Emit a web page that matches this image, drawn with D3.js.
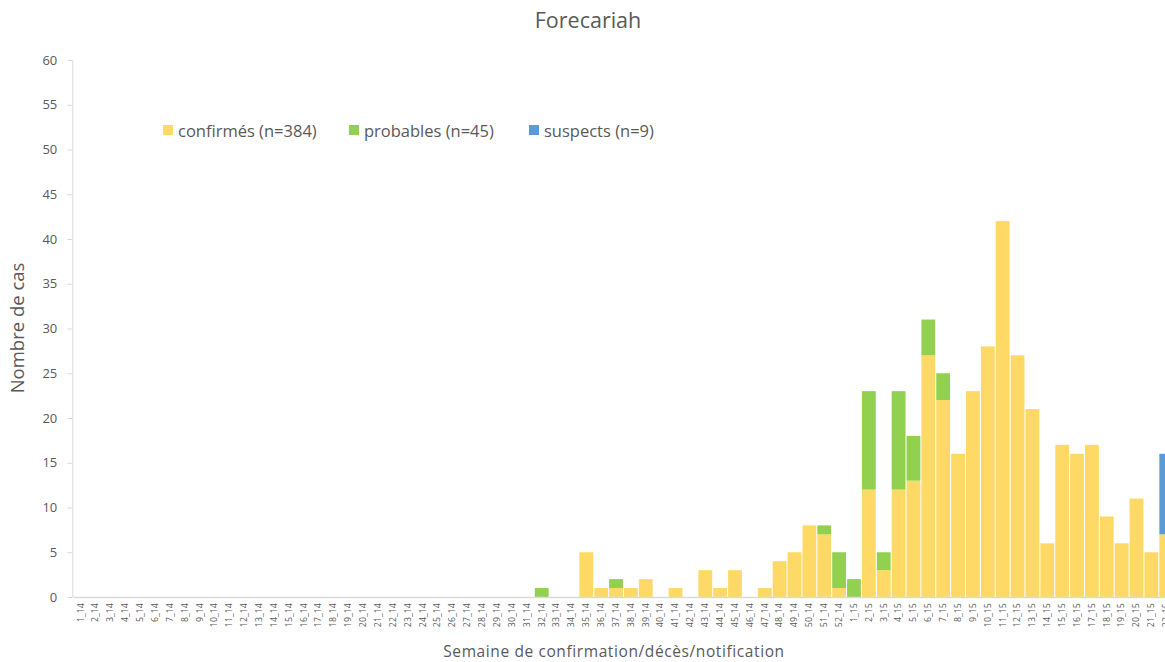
<!DOCTYPE html>
<html><head><meta charset="utf-8">
<script src="https://cdn.jsdelivr.net/npm/d3@7"></script>
<style>body{margin:0;background:#fff;overflow:hidden}svg{display:block}text{font-family:"Open Sans","Liberation Sans",sans-serif}</style>
</head><body><svg id="c" width="1165" height="662"></svg>
<script>
const weeks = [];
for (let i = 1; i <= 52; i++) weeks.push(i + "_14");
for (let i = 1; i <= 22; i++) weeks.push(i + "_15");
// values from week 1_14 onward (74 weeks)
const confirmes = [0,0,0,0,0,0,0,0,0,0, 0,0,0,0,0,0,0,0,0,0, 0,0,0,0,0,0,0,0,0,0, 0,0,0,0,5,1,1,1,2,0, 1,0,3,1,3,0,1,4,5,8, 7,1,
  0,12,3,12,13,27,22,16,23,28,42,27,21,6,17,16,17,9,6,11,5,7];
const probables = [0,0,0,0,0,0,0,0,0,0, 0,0,0,0,0,0,0,0,0,0, 0,0,0,0,0,0,0,0,0,0, 0,1,0,0,0,0,1,0,0,0, 0,0,0,0,0,0,0,0,0,0, 1,4,
  2,11,2,11,5,4,3,0,0,0,0,0,0,0,0,0,0,0,0,0,0,0];
const suspects = [0,0,0,0,0,0,0,0,0,0, 0,0,0,0,0,0,0,0,0,0, 0,0,0,0,0,0,0,0,0,0, 0,0,0,0,0,0,0,0,0,0, 0,0,0,0,0,0,0,0,0,0, 0,0,
  0,0,0,0,0,0,0,0,0,0,0,0,0,0,0,0,0,0,0,0,0,9];
const seriesNames = ["confirmés (n=384)", "probables (n=45)", "suspects (n=9)"];
const colors = ["#FFD966", "#92D050", "#5B9BD5"];
const yTicks = [0,5,10,15,20,25,30,35,40,45,50,55,60];

const svg = d3.select("#c");
const left = 73.3, bw = 14.87;
const x = d3.scaleBand().domain(weeks).range([left, left + bw * weeks.length]).paddingInner(0.07).paddingOuter(0.035);
const y = d3.scaleLinear().domain([0, 60]).range([597, 60]);

const rows = weeks.map((w, i) => ({w, c: confirmes[i], p: probables[i], s: suspects[i]}));
const stack = d3.stack().keys(["c", "p", "s"])(rows);

// axes
const yAxis = svg.append("g").attr("transform", `translate(${left - 1},0)`)
  .call(d3.axisLeft(y).tickValues(yTicks).tickSize(5).tickSizeOuter(0).tickPadding(10));
yAxis.select(".domain").attr("stroke", "#d9d9d9");
yAxis.selectAll(".tick line").attr("stroke", "#d9d9d9");
yAxis.selectAll(".tick text").attr("fill", "#595959").attr("font-size", 13);

stack.forEach((layer, k) => {
  svg.append("g").attr("fill", colors[k]).selectAll("rect").data(layer.filter(d => d[1] > d[0]))
    .join("rect")
    .attr("x", d => x(d.data.w))
    .attr("width", x.bandwidth())
    .attr("y", d => y(d[1]))
    .attr("height", d => y(d[0]) - y(d[1]));
});

const xAxis = svg.append("g").attr("transform", "translate(0,597)")
  .call(d3.axisBottom(x).tickSize(0).tickSizeOuter(0));
xAxis.select(".domain").attr("stroke", "#d9d9d9").attr("stroke-width", 1.5);
xAxis.selectAll(".tick text").attr("fill", "#595959").attr("font-size", 8.8)
  .attr("transform", "rotate(-90)").attr("text-anchor", "end").attr("dx", "-0.7em").attr("dy", "0.32em").attr("y", 0).attr("x", 0);

// title
svg.append("text").attr("x", 588).attr("y", 28).attr("text-anchor", "middle").attr("font-size", 21.5).attr("fill", "#595959").text("Forecariah");
// axis titles
svg.append("text").attr("transform", "translate(24,328) rotate(-90)").attr("text-anchor", "middle").attr("font-size", 18.5).attr("fill", "#595959").text("Nombre de cas");
svg.append("text").attr("x", 614).attr("y", 657).attr("text-anchor", "middle").attr("font-size", 15.5).attr("letter-spacing", 0.6).attr("fill", "#595959").text("Semaine de confirmation/décès/notification");

// legend
const legX = [163, 349, 529];
seriesNames.forEach((n, i) => {
  svg.append("rect").attr("x", legX[i]).attr("y", 125).attr("width", 10).attr("height", 10).attr("fill", colors[i]);
  svg.append("text").attr("x", legX[i] + 15).attr("y", 136.5).attr("font-size", 16.5).attr("fill", "#595959").text(n);
});
</script></body></html>
